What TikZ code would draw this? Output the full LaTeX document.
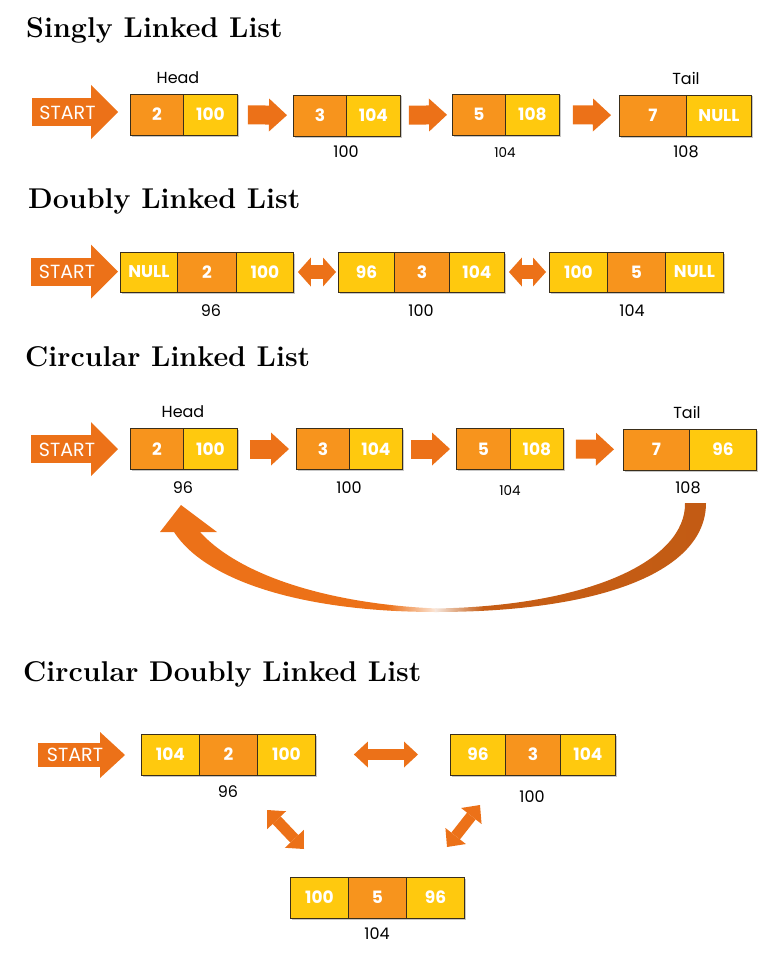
\documentclass[tikz,border=0pt]{standalone}
\usepackage{fontspec}
\setsansfont{Poppins}
\usetikzlibrary{arrows.meta,shadows}
\definecolor{corange}{HTML}{F7941D}
\definecolor{cyellow}{HTML}{FFC90E}
\definecolor{aorange}{HTML}{EC7118}
\definecolor{adark}{HTML}{C05A14}
\definecolor{cline}{HTML}{3A2E1A}
\pgfdeclarehorizontalshading{leftfade}{100bp}{color(0bp)=(aorange); color(66bp)=(aorange); color(75bp)=(aorange!15!white); color(100bp)=(aorange!15!white)}
\pgfdeclarehorizontalshading{rightfade}{100bp}{color(0bp)=(adark!15!white); color(25bp)=(adark!15!white); color(34bp)=(adark!85!aorange); color(100bp)=(adark)}
\tikzset{
 cell/.style={draw=cline, line width=0.9pt, minimum height=41pt, inner sep=0pt, text=white,
   font=\sffamily\bfseries\fontsize{17}{17}\selectfont, anchor=west,
   drop shadow={shadow xshift=1.5pt, shadow yshift=-1.5pt, fill=black, opacity=0.22}},
 ocell/.style={cell, fill=corange},
 ycell/.style={cell, fill=cyellow},
 lbl/.style={font=\sffamily\fontsize{16}{16}\selectfont, text=black, inner sep=0pt},
 slbl/.style={font=\sffamily\fontsize{13.5}{14}\selectfont, text=black, inner sep=0pt},
 title/.style={font=\bfseries\fontsize{28.6}{32}\selectfont, anchor=base west, inner sep=0pt},
 starttext/.style={font=\sffamily\fontsize{19}{19}\selectfont, text=white, inner sep=0pt},
 bigarrow/.style={draw=aorange, line cap=butt, line width=28pt, -{Triangle[length=27pt,width=54pt,line width=0pt]}},
 midarrow/.style={draw=aorange, line cap=butt, line width=24pt, -{Triangle[length=25pt,width=46pt,line width=0pt]}},
 linkarrow/.style={draw=aorange, line cap=butt, line width=19pt, -{Triangle[length=18pt,width=33pt,line width=0pt]}},
 dblarrow/.style={draw=aorange, line cap=butt, line width=14pt, {Triangle[length=13pt,width=29pt,line width=0pt]}-{Triangle[length=13pt,width=29pt,line width=0pt]}},
 dblarrowb/.style={draw=aorange, line cap=butt, line width=11pt, {Triangle[length=14pt,width=26pt,line width=0pt]}-{Triangle[length=14pt,width=26pt,line width=0pt]}},
}
\begin{document}
\begin{tikzpicture}[x=1pt,y=-1pt]
\useasboundingbox (0,0) rectangle (782,955);

% ---------------- Singly Linked List
\node[title] (t1) at (26,38) {Singly Linked List};
\node[ocell, minimum width=53pt] (a1) at (130,114.5) {2};
\node[ycell, minimum width=54pt] (a2) at (183,114.5) {100};
\node[ocell, minimum width=53pt] (b1) at (293,115.5) {3};
\node[ycell, minimum width=54pt] (b2) at (346,115.5) {104};
\node[ocell, minimum width=53pt] (c1) at (452,114.5) {5};
\node[ycell, minimum width=54pt] (c2) at (505,114.5) {108};
\node[ocell, minimum width=67pt] (d1) at (619,115.5) {7};
\node[ycell, minimum width=65pt] (d2) at (686,115.5) {NULL};
\node[lbl] (h1) at (178,78) {Head};
\node[lbl] (tl1) at (686,78) {Tail};
\node[lbl] (la1) at (346,152) {100};
\node[slbl] (la2) at (505,153) {104};
\node[lbl] (la3) at (686,152) {108};
\coordinate (s1) at (32,112);
\draw[bigarrow, shorten >=12pt] (s1) -- (s1 -| a1.west);
\node[starttext] (st1) at (67.5,112.5) {START};
\draw[linkarrow, shorten <=10pt, shorten >=6pt] (a2) -- (b1);
\draw[linkarrow, shorten <=8pt, shorten >=5pt] (b2) -- (c1);
\draw[linkarrow, shorten <=13pt, shorten >=8pt] (c2) -- (d1);

% ---------------- Doubly Linked List
\node[title] (t2) at (28,208) {Doubly Linked List};
\node[ycell, minimum width=57pt, minimum height=40pt] (e1) at (120,272) {NULL};
\node[ocell, minimum width=59pt, minimum height=40pt] (e2) at (177,272) {2};
\node[ycell, minimum width=57pt, minimum height=40pt] (e3) at (236,272) {100};
\node[ycell, minimum width=56pt, minimum height=40pt] (f1) at (338,272) {96};
\node[ocell, minimum width=55pt, minimum height=40pt] (f2) at (394,272) {3};
\node[ycell, minimum width=55pt, minimum height=40pt] (f3) at (449,272) {104};
\node[ycell, minimum width=58pt, minimum height=40pt] (g1) at (549,272) {100};
\node[ocell, minimum width=58pt, minimum height=40pt] (g2) at (607,272) {5};
\node[ycell, minimum width=58pt, minimum height=40pt] (g3) at (665,272) {NULL};
\node[lbl] (lb1) at (211,311) {96};
\node[lbl] (lb2) at (421,311) {100};
\node[lbl] (lb3) at (632,311) {104};
\coordinate (s2) at (31,271.5);
\draw[bigarrow, shorten >=2pt] (s2) -- (s2 -| e1.west);
\node[starttext] (st2) at (67,272) {START};
\draw[dblarrow, shorten <=4pt, shorten >=2pt] (e3) -- (f1);
\draw[dblarrow, shorten <=4pt, shorten >=3pt] (f3) -- (g1);

% ---------------- Circular Linked List
\node[title] (t3) at (25,366) {Circular Linked List};
\node[ocell, minimum width=53pt] (p1) at (130,449) {2};
\node[ycell, minimum width=54pt] (p2) at (183,449) {100};
\node[ocell, minimum width=53pt] (q1) at (296,449) {3};
\node[ycell, minimum width=53pt] (q2) at (349,449) {104};
\node[ocell, minimum width=54pt] (r1) at (456,449) {5};
\node[ycell, minimum width=53pt] (r2) at (510,449) {108};
\node[ocell, minimum width=66pt] (u1) at (623,449.5) {7};
\node[ycell, minimum width=67pt] (u2) at (689,449.5) {96};
\node[lbl] (h3) at (183,412) {Head};
\node[lbl] (tl3) at (687,412) {Tail};
\node[lbl] (lc1) at (183,488) {96};
\node[lbl] (lc2) at (349,488) {100};
\node[slbl] (lc3) at (510,491) {104};
\node[lbl] (lc4) at (688,488) {108};
\coordinate (s3) at (31,449);
\draw[bigarrow, shorten >=12pt] (s3) -- (s3 -| p1.west);
\node[starttext] (st3) at (67,449.5) {START};
\draw[linkarrow, shorten <=12pt, shorten >=7pt] (p2) -- (q1);
\draw[linkarrow, shorten <=8pt, shorten >=6pt] (q2) -- (r1);
\draw[linkarrow, shorten <=12pt, shorten >=9pt] (r2) -- (u1);
% curved return arrow
\shade[shading=leftfade] (160,532) -- (181,505) -- (217,532) -- (200,532)
  .. controls (240,576) and (330,604) .. (437,608.5) -- (437,612)
  .. controls (300,612) and (205,580) .. (174,532) -- cycle;
\shade[shading=rightfade] (435,612) .. controls (600,612) and (706,572) .. (706,503)
  -- (685,503) .. controls (686,560) and (590,606) .. (435,608.5) -- cycle;

% ---------------- Circular Doubly Linked List
\node[title] (t4) at (23,681) {Circular Doubly Linked List};
\node[ycell, minimum width=58pt] (x1) at (141,754.5) {104};
\node[ocell, minimum width=58pt] (x2) at (199,754.5) {2};
\node[ycell, minimum width=58pt] (x3) at (257,754.5) {100};
\node[ycell, minimum width=55pt] (y1) at (450,754.5) {96};
\node[ocell, minimum width=55pt] (y2) at (505,754.5) {3};
\node[ycell, minimum width=55pt] (y3) at (560,754.5) {104};
\node[ycell, minimum width=58pt] (z1) at (290,897.5) {100};
\node[ocell, minimum width=58pt] (z2) at (348,897.5) {5};
\node[ycell, minimum width=58pt] (z3) at (406,897.5) {96};
\node[lbl] (ld1) at (228,792) {96};
\node[lbl] (ld2) at (532,797) {100};
\node[lbl] (ld3) at (377,934) {104};
\coordinate (s4) at (38,755);
\draw[midarrow, shorten >=16pt] (s4) -- (s4 -| x1.west);
\node[starttext] (st4) at (75,755) {START};
\draw[dblarrowb, shorten <=38pt, shorten >=32pt] (x3) -- (y1);
\coordinate (da1) at (267,810);
\coordinate (da2) at (304,849);
\coordinate (db1) at (480,805);
\coordinate (db2) at (447,847);
\draw[dblarrowb] (da1) -- (da2);
\draw[dblarrowb] (db1) -- (db2);
\end{tikzpicture}
\end{document}
